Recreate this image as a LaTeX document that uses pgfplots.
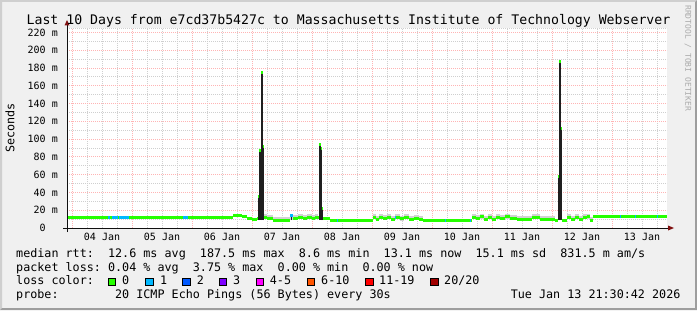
\documentclass[border=0pt]{standalone}
\usepackage{pgfplots}
\pgfplotsset{compat=1.18}
\usepackage{fontspec}
\setmainfont{DejaVu Sans Mono}
\setmonofont{DejaVu Sans Mono}
\definecolor{bgc}{HTML}{F0F0F0}
\definecolor{shadeA}{HTML}{CFCFCF}
\definecolor{shadeB}{HTML}{9E9E9E}
\definecolor{mgrid}{HTML}{FFB4B4}
\definecolor{mingrid}{HTML}{CFCFCF}
\definecolor{axisc}{HTML}{101010}
\definecolor{arrowc}{HTML}{801010}
\definecolor{lc0}{HTML}{26FF00}
\definecolor{lc1}{HTML}{00B8FF}
\definecolor{lc2}{HTML}{0059FF}
\definecolor{lc3}{HTML}{7E00FF}
\definecolor{lc4}{HTML}{FF00FF}
\definecolor{lc6}{HTML}{FF5500}
\definecolor{lc11}{HTML}{FF0000}
\definecolor{lc20}{HTML}{A10000}
\definecolor{smoke}{HTML}{D2D2D2}
\definecolor{wmark}{HTML}{ABABAB}
\newcommand\titlefont{\fontsize{13.2bp}{15bp}\selectfont}
\newcommand\legfont{\fontsize{11.74bp}{13bp}\selectfont}
\newcommand\axfont{\fontsize{10bp}{12bp}\selectfont}
\newcommand\wmfont{\fontsize{8bp}{9bp}\selectfont}
\newcommand\blueseg[3]{\addplot[lc1, line width=3bp, forget plot] coordinates {(#1,#3) (#2,#3)};}
\newcommand\spk[3]{\addplot[black!88, line width=#3bp, forget plot] coordinates {(#1,9) (#1,#2)};}
\frenchspacing
\begin{document}
\begin{tikzpicture}
\begin{scope}[x=1bp,y=1bp]
\fill[bgc] (0,0) rectangle (697,310);
\fill[shadeA] (0,0) -- (0,310) -- (697,310) -- (695,308) -- (2,308) -- (2,2) -- cycle;
\fill[shadeB] (697,310) -- (697,0) -- (0,0) -- (2,2) -- (695,2) -- (695,308) -- cycle;
\fill[white] (67,82) rectangle (667,282);
\end{scope}
\begin{axis}[at={(67bp,82bp)}, anchor=south west, scale only axis,
  width=600bp, height=200bp,
  xmin=-0.083333, xmax=9.916667, ymin=0, ymax=225,
  axis line style={draw=none},
  xtick={0,1,2,3,4,5,6,7,8,9}, xticklabels={},
  minor xtick={0.25,0.5,0.75,1.25,1.5,1.75,2.25,2.5,2.75,3.25,3.5,3.75,4.25,4.5,4.75,5.25,5.5,5.75,6.25,6.5,6.75,7.25,7.5,7.75,8.25,8.5,8.75,9.25,9.5,9.75},
  extra x ticks={0.5,1.5,2.5,3.5,4.5,5.5,6.5,7.5,8.5,9.5},
  extra x tick labels={\mbox{04 Jan},\mbox{05 Jan},\mbox{06 Jan},\mbox{07 Jan},\mbox{08 Jan},\mbox{09 Jan},\mbox{10 Jan},\mbox{11 Jan},\mbox{12 Jan},\mbox{13 Jan}},
  extra x tick style={grid=none},
  xticklabel style={font=\axfont, anchor=north, inner sep=0pt, yshift=-5bp},
  ytick={0,20,...,220},
  yticklabels={\mbox{0\phantom{xx}},\mbox{20 m},\mbox{40 m},\mbox{60 m},\mbox{80 m},\mbox{100 m},\mbox{120 m},\mbox{140 m},\mbox{160 m},\mbox{180 m},\mbox{200 m},\mbox{220 m}},
  yticklabel style={font=\axfont, anchor=east, inner sep=0pt, xshift=-9bp},
  minor ytick={10,30,50,70,90,110,130,150,170,190,210,225},
  grid=both,
  major grid style={mgrid, line width=1bp, dash pattern=on 1bp off 1bp},
  minor grid style={mingrid, line width=1bp, dash pattern=on 1bp off 1bp},
  major tick length=0pt, minor tick length=0pt,
  tick style={draw=none},
  clip=true,
]
% smoke
\addplot[smoke, line width=5bp, jump mark left, forget plot] coordinates {
(3.19167,13.0) (3.25,11.5) (3.35,9.5) (3.63333,11.5) (3.68333,12) (3.76667,12.6) (3.85,11.3) (3.91667,12.8) (4.0,11.5) (4.05,12.5) (4.1,12.5)};
\addplot[smoke, line width=5bp, jump mark left, forget plot] coordinates {
(5.01667,12.5) (5.06667,11.0) (5.11667,13.0) (5.18333,11.5) (5.25,13.3) (5.31667,10.8) (5.38333,12.5) (5.46667,11.2) (5.53333,12.8) (5.61667,10.5) (5.7,12.0) (5.78333,10.3) (5.85,10.3)};
\addplot[smoke, line width=5bp, jump mark left, forget plot] coordinates {
(6.66667,13.2) (6.73333,12.0) (6.8,13.5) (6.86667,10.8) (6.93333,12.8) (7.0,10.5) (7.06667,13.0) (7.13333,11.3) (7.21667,13.4) (7.3,12.2) (7.41667,11.0) (7.66667,13.3) (7.8,11.0) (8.05,11.0)};
\addplot[smoke, line width=5bp, jump mark left, forget plot] coordinates {
(8.25,12.5) (8.31667,10.5) (8.38333,12.8) (8.45,10.2) (8.51667,12.5) (8.58333,13.5) (8.63333,10.0) (8.68333,10.0)};
% spikes (smoke columns)
\spk{3.10333}{35}{1.0}
\spk{3.13333}{87}{2.2}
\spk{3.16667}{175}{1.4}
\spk{3.18500}{92}{0.8}
\spk{3.65}{14.6}{1.0}
\spk{4.13000}{94}{1.6}
\spk{4.15667}{90}{1.2}
\spk{4.17667}{21.4}{1.0}
\spk{8.10333}{58}{1.0}
\spk{8.13333}{187.5}{2.0}
\spk{8.16167}{112.5}{1.2}
% median rtt, loss 0
\addplot[lc0, line width=3bp, jump mark left] coordinates {
(-0.08333,12.2) (2.68333,13.9) (2.83333,12.8) (2.91667,11.0) (3.0,9.4) (3.08333,11.0)
(3.095,35) (3.11167,87) (3.155,175) (3.17833,92) (3.19167,12.0) (3.25,10.5) (3.35,8.3)
(3.63333,14.6) (3.68333,10.8) (3.76667,11.6) (3.85,10.3) (3.91667,11.8) (4.0,10.5) (4.05,11.5)
(4.11667,94) (4.145,90) (4.16667,21.4) (4.18833,10.5) (4.3,8.5)
(5.01667,11.5) (5.06667,10.0) (5.11667,12.0) (5.18333,10.5) (5.25,12.3) (5.31667,9.8) (5.38333,11.5)
(5.46667,10.2) (5.53333,11.8) (5.61667,9.5) (5.7,11.0) (5.78333,9.3) (5.85,8.5)
(6.66667,12.2) (6.73333,11.0) (6.8,12.5) (6.86667,9.8) (6.93333,11.8) (7.0,9.5) (7.06667,12.0)
(7.13333,10.3) (7.21667,12.4) (7.3,11.2) (7.41667,10.0) (7.66667,12.3) (7.8,9.5) (8.05,8.5)
(8.095,58) (8.11667,187.5) (8.15,112.5) (8.17167,8.3) (8.25,11.5) (8.31667,9.5) (8.38333,11.8)
(8.45,9.2) (8.51667,11.5) (8.58333,12.5) (8.63333,9.0) (8.68333,13.2) (9.91667,13.2)};
% median rtt, loss 1
\blueseg{0.6}{0.63333}{12.2}
\blueseg{0.66667}{0.76667}{12.2}
\blueseg{0.78333}{0.95}{12.2}
\blueseg{1.85}{1.93333}{12.2}
\blueseg{3.63333}{3.68333}{14.6}
\blueseg{4.41667}{4.43333}{8.5}
\blueseg{5.38333}{5.40000}{11.5}
\blueseg{6.21667}{6.23333}{8.5}
\blueseg{6.63333}{6.65}{8.5}
\blueseg{9.13333}{9.15}{13.2}
\blueseg{9.38333}{9.4}{13.2}
\blueseg{9.75}{9.76667}{13.2}
\end{axis}
\begin{scope}[x=1bp,y=1bp]
% axes
\draw[axisc, line width=1bp] (63,82) -- (668,82);
\draw[axisc, line width=1bp] (67,78) -- (67,285);
\fill[arrowc] (668,79.5) -- (674,82) -- (668,84.5) -- cycle;
\fill[arrowc] (64.5,284.5) -- (67,290) -- (69.5,284.5) -- cycle;
% title
\node[font=\titlefont, anchor=base, inner sep=0pt] at (348.5,286) {Last 10 Days from e7cd37b5427c to Massachusetts Institute of Technology Webserver};
% y label
\node[font=\legfont, rotate=90, inner sep=0pt] at (10,182) {Seconds};
% watermark
\node[font=\wmfont, text=wmark, rotate=-90, anchor=west, inner sep=0pt] at (688,305) {RRDTOOL / TOBI OETIKER};
% legend
\node[font=\legfont, anchor=base west, inner sep=0pt] at (16,52.5) {median rtt:~ 12.6 ms avg~ 187.5 ms max~ 8.6 ms min~ 13.1 ms now~ 15.1 ms sd~ 831.5 m am/s};
\node[font=\legfont, anchor=base west, inner sep=0pt] at (16,38.8) {packet loss: 0.04 \% avg~ 3.75 \% max~ 0.00 \% min~ 0.00 \% now};
\node[font=\legfont, anchor=base west, inner sep=0pt] at (16,25.1) {loss color:};
\foreach \bx/\lx/\col/\lab in {108.3/123/lc0/0, 145.7/161/lc1/1, 182.7/197.7/lc2/2, 219/234/lc3/3, 256/270.7/lc4/4-5, 307.3/322/lc6/6-10, 365.7/380/lc11/11-19, 430.7/445/lc20/{20/20}}{
  \filldraw[fill=\col, draw=black, line width=1bp] (\bx,24.5) rectangle ++(7.5,7.5);
  \node[font=\legfont, anchor=base west, inner sep=0pt] at (\lx-1,25.1) {\lab};
}
\node[font=\legfont, anchor=base west, inner sep=0pt] at (16,11.4) {probe:~ ~ ~ ~ 20 ICMP Echo Pings (56 Bytes) every 30s};
\node[font=\legfont, anchor=base east, inner sep=0pt] at (680.6,11.4) {Tue Jan 13 21:30:42 2026};
\end{scope}
\end{tikzpicture}
\end{document}
